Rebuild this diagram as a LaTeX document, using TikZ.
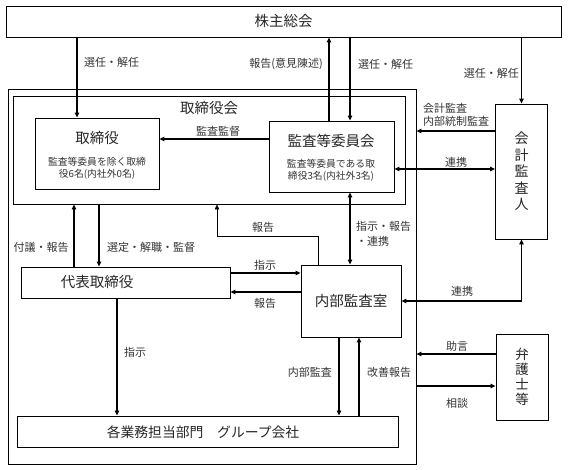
\documentclass[tikz,border=0pt]{standalone}
\usepackage{fontspec}
\setmainfont{Noto Sans CJK JP}
\usetikzlibrary{arrows.meta}
\begin{document}
\begin{tikzpicture}[x=1pt,y=-1pt,
  box/.style={draw, line width=0.9pt, inner sep=0pt},
  arr/.style={line width=1.1pt, -{Triangle[length=5pt,width=4.5pt]}},
  darr/.style={line width=1.1pt, {Triangle[length=5pt,width=4.5pt]}-{Triangle[length=5pt,width=4.5pt]}},
  lbl/.style={font=\fontsize{11}{12.5}\selectfont, inner sep=0pt, text=black!80},
  ttl/.style={font=\fontsize{14.5}{16}\selectfont, inner sep=0pt, text=black!85},
  subt/.style={font=\fontsize{9.8}{12}\selectfont, inner sep=0pt, align=center, text=black!80}]
\useasboundingbox (0,0) rectangle (568,469);
% boxes
\node[box, minimum width=555pt, minimum height=31pt, ttl] (kabu) at (283.5,21.5) {株主総会};
\node[box, minimum width=408pt, minimum height=375pt] (outer) at (212,276.5) {};
\node[box, minimum width=392pt, minimum height=108pt] (torikai) at (209.5,150) {};
\node[ttl] (torikaiT) at (209,108) {取締役会};
\node[box, minimum width=124pt, minimum height=71pt] (tori) at (97,153.5) {};
\node[ttl] (toriT) at (97,138) {取締役};
\node[subt] (toriS) at (97,168) {監査等委員を除く取締\\役6名(内社外0名)};
\node[box, minimum width=125pt, minimum height=71pt] (kansa) at (331.5,156.5) {};
\node[ttl] (kansaT) at (331,141) {監査等委員会};
\node[subt] (kansaS) at (331,170) {監査等委員である取\\締役3名(内社外3名)};
\node[box, minimum width=52pt, minimum height=135pt, font=\fontsize{14}{16.5}\selectfont, align=center, text=black!85] (kaikei) at (521.5,171.5) {会\\計\\監\\査\\人};
\node[box, minimum width=209pt, minimum height=31pt] (daihyo) at (125.5,282.5) {};
\node[ttl] (daihyoT) at (97,282) {代表取締役};
\node[box, minimum width=100pt, minimum height=72pt, ttl] (naibu) at (351,301) {内部監査室};
\node[box, minimum width=381pt, minimum height=31pt] (gyomu) at (207.5,431.5) {};
\node[font=\fontsize{13.8}{16}\selectfont, inner sep=0pt, text=black!85] (gyomuT) at (203,432) {各業務担当部門　グループ会社};
\node[box, minimum width=52pt, minimum height=86pt, font=\fontsize{13.5}{15}\selectfont, align=center, text=black!85] (bengo) at (522,377) {弁\\護\\士\\等};
% guide coordinates
\coordinate (gA) at (77,0);
\coordinate (gB) at (329,0);
\coordinate (gC) at (350,0);
\coordinate (gD) at (0,139);
\coordinate (gE) at (0,131);
\coordinate (gF) at (0,169);
\coordinate (gG) at (318,0);
\coordinate (gH) at (217,236);
\coordinate (gI) at (74,0);
\coordinate (gJ) at (99,0);
\coordinate (gK) at (0,273);
\coordinate (gL) at (0,292);
\coordinate (gM) at (0,301);
\coordinate (gN) at (117,0);
\coordinate (gO) at (339,0);
\coordinate (gP) at (359,0);
\coordinate (gQ) at (0,354);
\coordinate (gR) at (0,386);
% connectors
\draw[arr] (kabu.south -| gA) -- (tori.north -| gA);
\node[lbl, anchor=west] (l1) at (84,62) {選任・解任};
\draw[arr] (kansa.north -| gB) -- (kabu.south -| gB);
\node[lbl, anchor=east] (l2) at (323,64) {報告(意見陳述)};
\draw[arr] (kabu.south -| gC) -- (kansa.north -| gC);
\node[lbl, anchor=west] (l3) at (358,64) {選任・解任};
\draw[arr] (kabu.south -| kaikei.north) -- (kaikei.north);
\node[lbl, anchor=east] (l4) at (519,73) {選任・解任};
\draw[arr] (kansa.west |- gD) -- (tori.east |- gD);
\node[lbl] (l5) at (218,131) {監査監督};
\draw[arr] (kaikei.west |- gE) -- (outer.east |- gE);
\node[lbl, anchor=west, align=left] (l6) at (423,115) {会計監査\\内部統制監査};
\draw[darr] (kansa.east |- gF) -- (kaikei.west |- gF);
\node[lbl] (l7) at (456,162) {連携};
\draw[darr] (kansa.south -| gC) -- (naibu.north -| gC);
\node[lbl, anchor=west, align=left] (l8) at (356,234) {指示・報告\\[2.5pt]・連携};
\draw[line width=0.6pt, -{Triangle[length=5pt,width=4.5pt]}] (naibu.north -| gG) |- (gH) -- (torikai.south -| gH);
\node[lbl] (l9) at (263,227) {報告};
\draw[arr] (daihyo.north -| gI) -- (torikai.south -| gI);
\node[lbl] (l10) at (41,247) {付議・報告};
\draw[arr] (torikai.south -| gJ) -- (daihyo.north -| gJ);
\node[lbl, anchor=west] (l11) at (107,247) {選定・解職・監督};
\draw[arr] (daihyo.east |- gK) -- (naibu.west |- gK);
\node[lbl] (l12) at (265,265) {指示};
\draw[arr] (naibu.west |- gL) -- (daihyo.east |- gL);
\node[lbl] (l13) at (265,303) {報告};
\draw[darr] (naibu.east |- gM) -| (kaikei.south);
\node[lbl] (l14) at (462,291) {連携};
\draw[arr] (daihyo.south -| gN) -- (gyomu.north -| gN);
\node[lbl] (l15) at (135,352) {指示};
\draw[arr] (naibu.south -| gO) -- (gyomu.north -| gO);
\node[lbl, anchor=east] (l16) at (332,372) {内部監査};
\draw[arr] (gyomu.north -| gP) -- (naibu.south -| gP);
\node[lbl, anchor=west] (l17) at (367,372) {改善報告};
\draw[arr] (bengo.west |- gQ) -- (outer.east |- gQ);
\node[lbl] (l18) at (457,346) {助言};
\draw[arr] (outer.east |- gR) -- (bengo.west |- gR);
\node[lbl] (l19) at (457,403) {相談};
\end{tikzpicture}
\end{document}
